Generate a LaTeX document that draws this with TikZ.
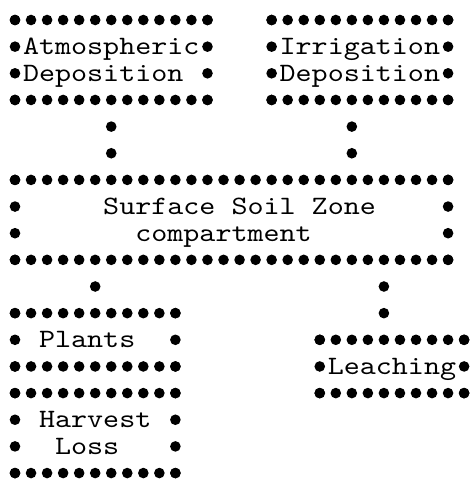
\documentclass[tikz,border=0pt]{standalone}
\usepackage{fontspec}
\newfontfamily\gridfont{lmmono10-regular.otf}[FakeStretch=1.153]
\usetikzlibrary{fit,decorations.markings}
% grid: column c centre x = 15+16.04c ; row r centre y = -(20+26.65(r-1))
\newcommand\dotbox[5]{% name, c1, r1, c2, r2
  \node[boxshape, fit={({15+16.04*(#2)},{-20-26.65*((#3)-1)}) ({15+16.04*(#4)},{-20-26.65*((#5)-1)})}] (#1) {};
  \foreach \c in {#2,...,#4}{
    \fill[dotc] ({15+16.04*\c},{-20-26.65*((#3)-1)}) circle (5.3pt);
    \fill[dotc] ({15+16.04*\c},{-20-26.65*((#5)-1)}) circle (5.3pt);}
  \foreach \r in {#3,...,#5}{
    \fill[dotc] ({15+16.04*(#2)},{-20-26.65*(\r-1)}) circle (5.3pt);
    \fill[dotc] ({15+16.04*(#4)},{-20-26.65*(\r-1)}) circle (5.3pt);}
}
\newcommand\gtext[4]{\node[txt] (#1) at ({6.98+16.04*(#2)},{-28-26.65*((#3)-1)}) {#4};}
\begin{document}
\begin{tikzpicture}[x=1pt,y=1pt,
  dotc/.style={fill=black},
  boxshape/.style={inner sep=0pt, outer sep=0pt, draw=none},
  txt/.style={font=\gridfont\fontsize{26.5}{26.5}\selectfont, anchor=base west, inner sep=0pt, outer sep=0pt},
  conn3/.style={decoration={markings,
      mark=at position 0.3333 with {\fill[dotc] (0,0) circle (5.3pt);},
      mark=at position 0.6667 with {\fill[dotc] (0,0) circle (5.3pt);}}, decorate},
  conn2/.style={decoration={markings,
      mark=at position 0.5 with {\fill[dotc] (0,0) circle (5.3pt);}}, decorate}]
\useasboundingbox (0,0) rectangle (472,-480);
% boxes
\dotbox{atm}{0}{1}{12}{4}
\dotbox{irr}{16}{1}{27}{4}
\dotbox{soil}{0}{7}{27}{10}
\dotbox{plants}{0}{12}{10}{14}
\dotbox{harvest}{0}{15}{10}{18}
\dotbox{leach}{19}{13}{28}{15}
% texts
\gtext{atm1}{1}{2}{Atmospheric}
\gtext{atm2}{1}{3}{Deposition}
\gtext{irr1}{17}{2}{Irrigation}
\gtext{irr2}{17}{3}{Deposition}
\gtext{soil1}{6}{8}{Surface}
\gtext{soil2}{14}{8}{Soil}
\gtext{soil3}{19}{8}{Zone}
\gtext{soil4}{8}{9}{compartment}
\gtext{plants1}{2}{13}{Plants}
\gtext{harvest1}{2}{16}{Harvest}
\gtext{harvest2}{3}{17}{Loss}
\gtext{leach1}{20}{14}{Leaching}
% connector columns
\coordinate (k5) at ({15+16.04*5},0);
\coordinate (k6) at ({15+16.04*6},0);
\coordinate (k21) at ({15+16.04*21},0);
\coordinate (k23) at ({15+16.04*23},0);
% connectors
\path[conn3] (atm.south -| k6) -- (soil.north -| k6);
\path[conn3] (irr.south -| k21) -- (soil.north -| k21);
\path[conn2] (soil.south -| k5) -- (plants.north -| k5);
\path[conn3] (soil.south -| k23) -- (leach.north -| k23);
\end{tikzpicture}
\end{document}
